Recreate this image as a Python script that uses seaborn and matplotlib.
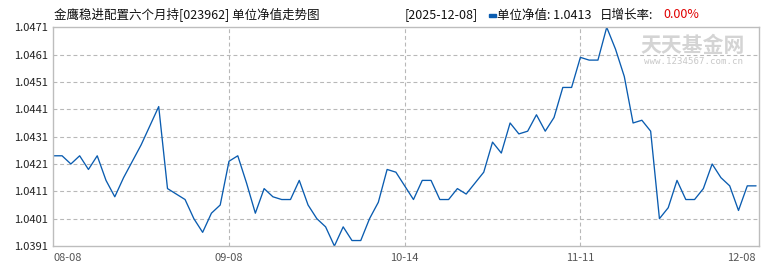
import matplotlib
matplotlib.use("Agg")
import matplotlib.pyplot as plt
import seaborn as sns
import pandas as pd
from matplotlib.patches import Rectangle

# ---- data ----
nav = [1.0424, 1.0424, 1.0421, 1.0424, 1.0419, 1.0424, 1.0415, 1.0409, 1.0416, 1.0422,
       1.0428, 1.0435, 1.0442, 1.0412, 1.0410, 1.0408, 1.0401, 1.0396, 1.0403, 1.0406,
       1.0422, 1.0424, 1.0414, 1.0403, 1.0412, 1.0409, 1.0408, 1.0408, 1.0415, 1.0406,
       1.0401, 1.0398, 1.0391, 1.0398, 1.0393, 1.0393, 1.0401, 1.0407, 1.0419, 1.0418,
       1.0413, 1.0408, 1.0415, 1.0415, 1.0408, 1.0408, 1.0412, 1.0410, 1.0414, 1.0418,
       1.0429, 1.0425, 1.0436, 1.0432, 1.0433, 1.0439, 1.0433, 1.0438, 1.0449, 1.0449,
       1.0460, 1.0459, 1.0459, 1.0471, 1.0463, 1.0453, 1.0436, 1.0437, 1.0433, 1.0401,
       1.0405, 1.0415, 1.0408, 1.0408, 1.0412, 1.0421, 1.0416, 1.0413, 1.0404, 1.0413,
       1.0413]
tick_pos = [0, 20, 40, 60, 80]
tick_labels = ["08-08", "09-08", "10-14", "11-11", "12-08"]
y_ticks = [1.0391, 1.0401, 1.0411, 1.0421, 1.0431, 1.0441, 1.0451, 1.0461, 1.0471]
title = "金鹰稳进配置六个月持[023962] 单位净值走势图"
date_txt = "[2025-12-08]"
nav_txt = "单位净值: 1.0413"
rate_lbl = "日增长率:"
rate_val = "0.00%"

df = pd.DataFrame({"idx": list(range(len(nav))), "nav": nav})

sns.set_style("white")
plt.rcParams["font.family"] = ["Noto Sans CJK SC", "DejaVu Sans"]

W, H = 770, 270
fig = plt.figure(figsize=(W / 100, H / 100), dpi=100)
L, R, T, B = 53.3, 758.7, 27.3, 246.0
ax = fig.add_axes([L / W, 1 - B / H, (R - L) / W, (B - T) / H])

line_color = "#0a5cb0"
grid_color = "#b8b8b8"

sns.lineplot(data=df, x="idx", y="nav", ax=ax, color=line_color, linewidth=0.95)

ax.set_xlim(0, 80.3)
ax.set_ylim(y_ticks[0], y_ticks[-1])
ax.set_xlabel("")
ax.set_ylabel("")

ax.set_yticks(y_ticks)
ax.set_yticklabels([f"{v:.4f}" for v in y_ticks], fontsize=8, color="#222222")
ax.tick_params(axis="y", length=3, width=0.8, color=grid_color, pad=1, direction="out")

ax.set_xticks(tick_pos)
xt = ax.set_xticklabels(tick_labels, fontsize=8, color="#555555")
xt[0].set_ha("left")
xt[-1].set_ha("right")
ax.tick_params(axis="x", length=0, pad=5)

for v in y_ticks[1:-1]:
    ax.axhline(v, color=grid_color, linestyle=(0, (3.5, 2.5)), linewidth=0.8, zorder=0)
for p in tick_pos[1:-1]:
    ax.axvline(p, color=grid_color, linestyle=(0, (3.5, 2.5)), linewidth=0.8, zorder=0)

for s in ax.spines.values():
    s.set_color("#bdbdbd")
    s.set_linewidth(1.0)

# watermark
fig.text(693 / W, 1 - 46 / H, "天天基金网", fontsize=15, color="#d4d4d4",
         ha="center", va="center", fontweight="bold", zorder=0)
fig.text(693 / W, 1 - 62 / H, "www.1234567.com.cn", fontsize=6.6, color="#c8c8c8",
         ha="center", va="center", family="DejaVu Sans Mono", zorder=0)

# header texts
fig.text(54 / W, 1 - 15 / H, title, fontsize=9, color="#111111", ha="left", va="center")
fig.text(405 / W, 1 - 15 / H, date_txt, fontsize=9, color="#111111", ha="left", va="center")
fig.patches.append(Rectangle((489 / W, 1 - 16.5 / H), 7 / W, 2.5 / H,
                             transform=fig.transFigure, color=line_color))
fig.text(497 / W, 1 - 15 / H, nav_txt, fontsize=9, color="#111111", ha="left", va="center")
fig.text(600 / W, 1 - 15 / H, rate_lbl, fontsize=9, color="#111111", ha="left", va="center")
fig.text(663 / W, 1 - 15 / H, rate_val, fontsize=9, color="#e00000", ha="left", va="center")

fig.savefig("out.png", dpi=100)
